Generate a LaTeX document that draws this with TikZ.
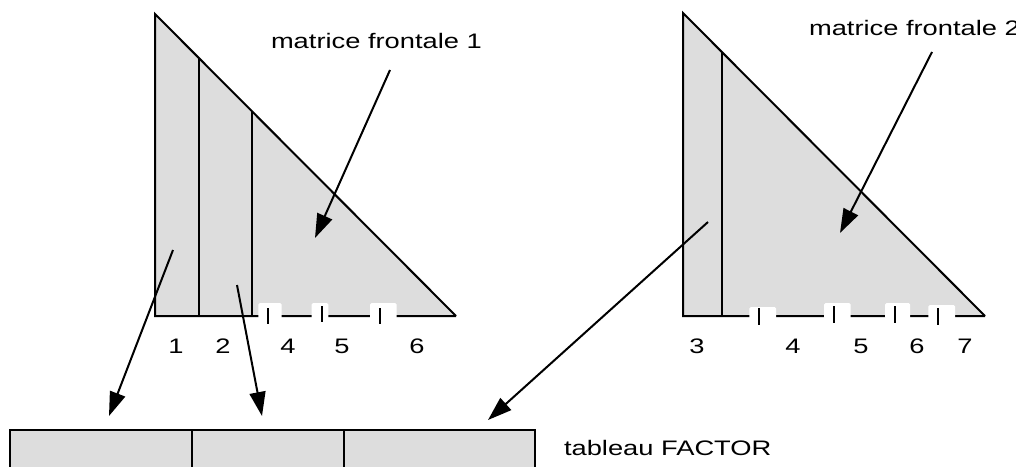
\documentclass[tikz,border=0pt]{standalone}
\usepackage{fontspec}
\setmainfont{Liberation Sans}
\newfontfamily\widefont[FakeStretch=1.3]{Liberation Sans}
\usetikzlibrary{arrows.meta}
\definecolor{panel}{HTML}{DDDDDD}
\begin{document}
\begin{tikzpicture}[x=1pt,y=-1pt, line width=2pt, line join=miter,
  gapbox/.style={fill=white, draw=none, rounded corners=1.5pt},
  lbl/.style={anchor=base, inner sep=0pt, font=\widefont\fontsize{21}{25}\selectfont},
  ttl/.style={anchor=base west, inner sep=0pt, font=\widefont\fontsize{21}{25}\selectfont},
  ptr/.style={-{Triangle[length=24pt,width=16pt]}, line width=2pt}]
\useasboundingbox (0,0) rectangle (1016,466);
\clip (0,0) rectangle (1016,466);

% ---------- frontal matrix 1 ----------
\coordinate (t1top) at (155,14);
\coordinate (t1bl) at (155,316);
\coordinate (t1br) at (456,316);
\fill[panel] (t1top) -- (t1bl) -- (t1br) -- cycle;
\draw (t1br) -- (t1top) -- (t1bl) -- (t1br);
\draw (199,58) -- (199,316);
\draw (252,111) -- (252,316);
\fill[gapbox] (258.3,303) rectangle (281.7,319);
\fill[gapbox] (311.7,303) rectangle (328.3,319);
\fill[gapbox] (370,303) rectangle (396.7,319);
\draw (268,308) -- (268,324);
\draw (322,306) -- (322,322);
\draw (380,308) -- (380,324);

\node[lbl] (a1) at (176,353) {1};
\node[lbl] (a2) at (223,353) {2};
\node[lbl] (a4) at (288,353) {4};
\node[lbl] (a5) at (342,353) {5};
\node[lbl] (a6) at (417,353) {6};

% ---------- frontal matrix 2 ----------
\coordinate (t2top) at (683,13);
\coordinate (t2bl) at (683,316);
\coordinate (t2br) at (985,316);
\fill[panel] (t2top) -- (t2bl) -- (t2br) -- cycle;
\draw (t2br) -- (t2top) -- (t2bl) -- (t2br);
\draw (722,52) -- (722,316);
\fill[gapbox] (749.3,307) rectangle (776,319);
\fill[gapbox] (824,303) rectangle (850.7,319);
\fill[gapbox] (885,303) rectangle (910,319);
\fill[gapbox] (928.3,305) rectangle (955,319);
\draw (759,308) -- (759,325);
\draw (834,306) -- (834,323);
\draw (895,306) -- (895,323);
\draw (938,308) -- (938,325);

\node[lbl] (b3) at (697,353) {3};
\node[lbl] (b4) at (793,353) {4};
\node[lbl] (b5) at (861,353) {5};
\node[lbl] (b6) at (917,353) {6};
\node[lbl] (b7) at (965,353) {7};

% ---------- FACTOR array ----------
\fill[panel] (10,430) rectangle (535,480);
\draw (10,480) -- (10,430) -- (535,430) -- (535,480);
\draw (192,430) -- (192,480);
\draw (344,430) -- (344,480);

% ---------- titles ----------
\node[ttl] (m1) at (270,48) {matrice frontale 1};
\node[ttl] (m2) at (808,35) {matrice frontale 2};
\node[ttl] (tf) at (563,455) {tableau FACTOR};

% ---------- arrows ----------
\coordinate (s1) at (173,250);  \coordinate (e1) at (109,416);
\coordinate (s2) at (237,285);  \coordinate (e2) at (262,416);
\coordinate (s3) at (708,222);  \coordinate (e3) at (488,420);
\coordinate (s4) at (390,70);   \coordinate (e4) at (315,238);
\coordinate (s5) at (932,52);   \coordinate (e5) at (840,233);
\draw[ptr] (s1) -- (e1);
\draw[ptr] (s2) -- (e2);
\draw[ptr] (s3) -- (e3);
\draw[ptr] (s4) -- (e4);
\draw[ptr] (s5) -- (e5);
\end{tikzpicture}
\end{document}
